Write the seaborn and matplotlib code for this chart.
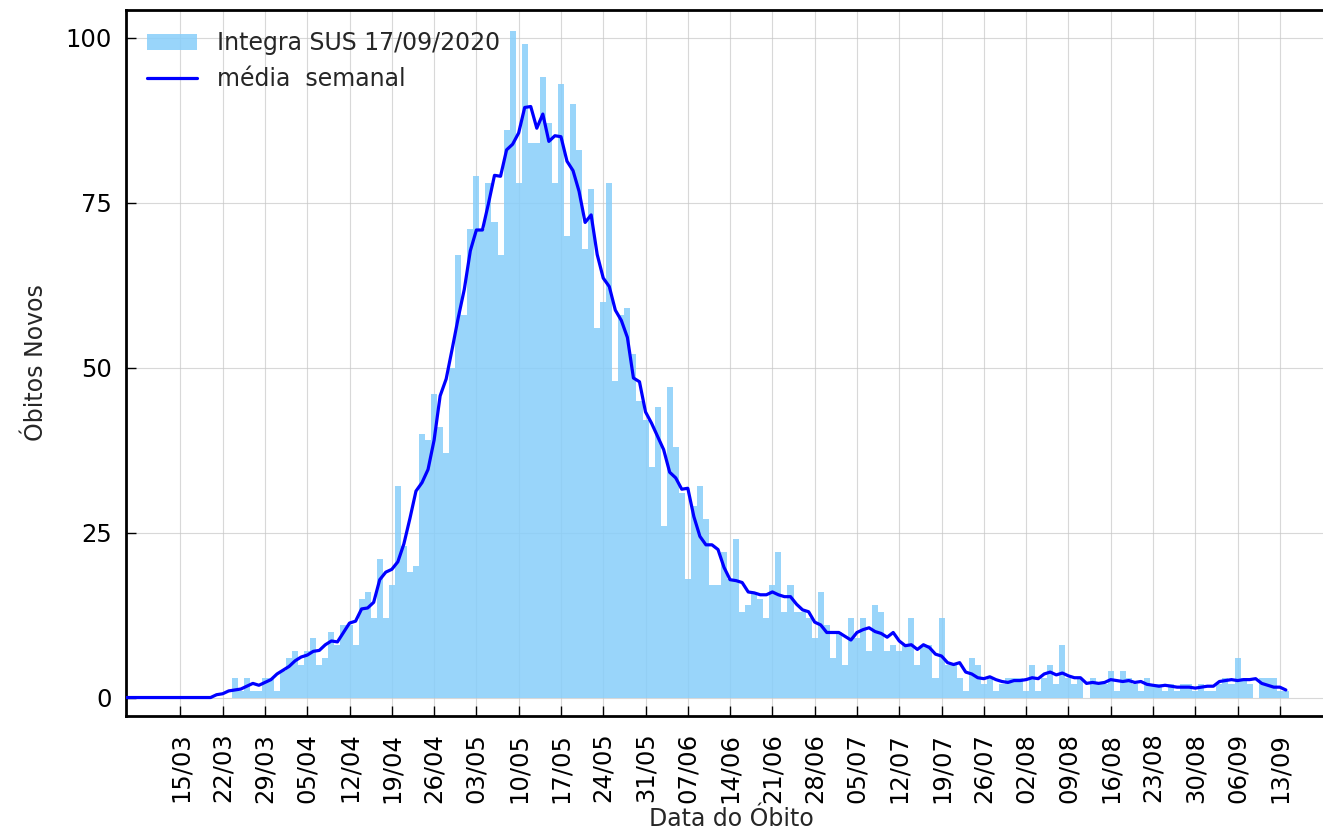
import numpy as np
import pandas as pd
import matplotlib
matplotlib.use('Agg')
import matplotlib.pyplot as plt
import matplotlib.dates as mdates
import seaborn as sns

# obitos diarios por data do obito (Integra SUS 17/09/2020)
inicio = '2020-03-06'
obitos_mar = [0, 0, 0, 0, 0, 0, 0, 0, 0, 0, 0, 0, 0, 0, 0, 0, 0, 0,
              3, 1, 3, 1, 1, 3, 3, 1]
obitos_abr = [4, 6, 7, 5, 7, 9, 5, 6, 10, 8, 11, 11, 8, 15, 16, 12, 21, 12, 17, 32,
              23, 19, 20, 40, 39, 46, 41, 37, 50, 67]
obitos_mai = [58, 71, 79, 71, 78, 72, 67, 86, 101, 78, 99, 84, 84, 94, 87, 78, 93, 70,
              90, 83, 68, 77, 56, 60, 78, 48, 58, 59, 52, 45, 42]
obitos_jun = [35, 44, 26, 47, 38, 31, 18, 29, 32, 27, 17, 17, 22, 18, 24, 13, 14, 16,
              15, 12, 17, 22, 13, 17, 13, 13, 12, 9, 16, 11]
obitos_jul = [6, 10, 5, 12, 9, 12, 7, 14, 13, 7, 8, 7, 8, 12, 5, 8, 8, 3, 12, 5,
              5, 3, 1, 6, 5, 2, 3, 1, 2, 3, 3]
obitos_ago = [3, 1, 5, 1, 3, 5, 2, 8, 3, 2, 3, 0, 3, 2, 2, 4, 1, 4, 3, 2,
              1, 3, 2, 2, 1, 2, 1, 2, 2, 1, 2]
obitos_set = [1, 1, 2, 3, 2, 6, 3, 2, 0, 3, 3, 3, 1, 1]

# marcas semanais do eixo x
primeira_marca = '2020-03-15'
ultima_marca = '2020-09-13'

obitos = np.array(obitos_mar + obitos_abr + obitos_mai + obitos_jun
                  + obitos_jul + obitos_ago + obitos_set, dtype=float)
datas = pd.date_range(inicio, periods=len(obitos), freq='D')
media = np.convolve(obitos, np.ones(7) / 7, mode='same')
df = pd.DataFrame({'data': datas, 'obitos': obitos, 'media': media})

sns.set_style('white')
plt.rcParams['font.family'] = ['DejaVu Sans']

fig = plt.figure(figsize=(13.23, 8.34), dpi=100)
ax = fig.add_axes([126 / 1323, 118 / 834, 1210 / 1323, 706 / 834])

ax.bar(df['data'], df['obitos'], width=1.0, color='lightskyblue', alpha=0.85,
       linewidth=0, antialiased=False, label='Integra SUS 17/09/2020', zorder=2)
sns.lineplot(data=df, x='data', y='media', ax=ax, color='blue', linewidth=2.3,
             label='média  semanal', zorder=3)

ax.set_xlim(datas[0], datas[0] + pd.Timedelta(days=200.3))
ax.set_ylim(-2.8, 104.2)
ax.set_yticks([0, 25, 50, 75, 100])
ax.set_xticks(pd.date_range(primeira_marca, ultima_marca, freq='7D'))
ax.xaxis.set_major_formatter(mdates.DateFormatter('%d/%m'))

ax.grid(True, color='#c8c8c8', linewidth=0.8, alpha=0.7, zorder=0)
ax.set_axisbelow(True)
ax.tick_params(axis='both', direction='in', length=7, width=1, labelsize=17.5,
               colors='black', bottom=True, left=True)
ax.tick_params(axis='x', rotation=90, pad=12)
ax.tick_params(axis='y', pad=10)
for s in ax.spines.values():
    s.set_color('black')
    s.set_linewidth(2)

ax.set_xlabel('Data do Óbito', fontsize=17, labelpad=3)
ax.set_ylabel('Óbitos Novos', fontsize=17, labelpad=13)
handles, labels = ax.get_legend_handles_labels()
ordem = [labels.index('Integra SUS 17/09/2020'), labels.index('média  semanal')]
ax.legend([handles[i] for i in ordem], [labels[i] for i in ordem],
          loc='upper left', frameon=False, fontsize=17, handlelength=2.1,
          handletextpad=0.85)

fig.savefig('out.png', dpi=100)
